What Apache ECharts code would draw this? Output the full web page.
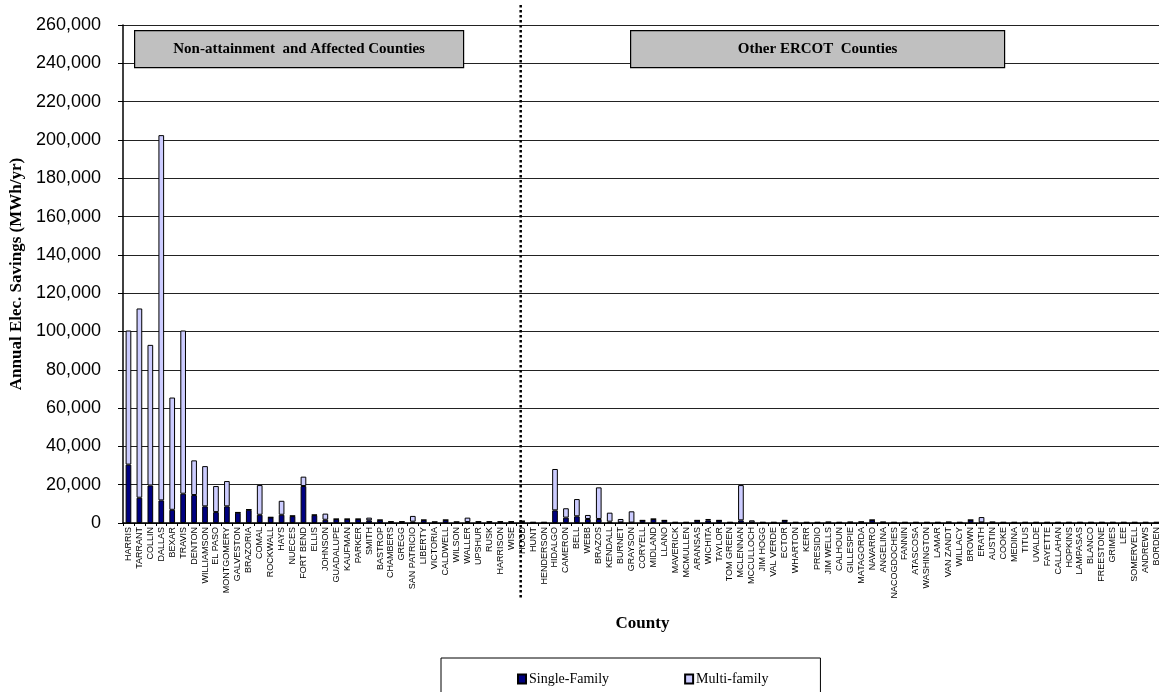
<!DOCTYPE html>
<html>
<head>
<meta charset="utf-8">
<title>Annual Elec. Savings by County</title>
<script src="https://cdn.jsdelivr.net/npm/echarts@6/dist/echarts.min.js"></script>
<style>
  html, body { margin: 0; padding: 0; background: #fff; }
  #main { width: 1159px; height: 692px; }
</style>
</head>
<body>
<div id="main"></div>
<script>
// counties, in the order on the chart
var counties = [
  'HARRIS', 'TARRANT', 'COLLIN', 'DALLAS', 'BEXAR', 'TRAVIS', 'DENTON', 'WILLIAMSON', 'EL PASO', 'MONTGOMERY',
  'GALVESTON', 'BRAZORIA', 'COMAL', 'ROCKWALL', 'HAYS', 'NUECES', 'FORT BEND', 'ELLIS', 'JOHNSON', 'GUADALUPE',
  'KAUFMAN', 'PARKER', 'SMITH', 'BASTROP', 'CHAMBERS', 'GREGG', 'SAN PATRICIO', 'LIBERTY', 'VICTORIA', 'CALDWELL',
  'WILSON', 'WALLER', 'UPSHUR', 'RUSK', 'HARRISON', 'WISE',
  'HOOD', 'HUNT', 'HENDERSON', 'HIDALGO', 'CAMERON', 'BELL', 'WEBB', 'BRAZOS', 'KENDALL', 'BURNET',
  'GRAYSON', 'CORYELL', 'MIDLAND', 'LLANO', 'MAVERICK', 'MCMULLEN', 'ARANSAS', 'WICHITA', 'TAYLOR', 'TOM GREEN',
  'MCLENNAN', 'MCCULLOCH', 'JIM HOGG', 'VAL VERDE', 'ECTOR', 'WHARTON', 'KERR', 'PRESIDIO', 'JIM WELLS', 'CALHOUN',
  'GILLESPIE', 'MATAGORDA', 'NAVARRO', 'ANGELINA', 'NACOGDOCHES', 'FANNIN', 'ATASCOSA', 'WASHINGTON', 'LAMAR', 'VAN ZANDT',
  'WILLACY', 'BROWN', 'ERATH', 'AUSTIN', 'COOKE', 'MEDINA', 'TITUS', 'UVALDE', 'FAYETTE', 'CALLAHAN',
  'HOPKINS', 'LAMPASAS', 'BLANCO', 'FREESTONE', 'GRIMES', 'LEE', 'SOMERVELL', 'ANDREWS', 'BORDEN'
];

// MWh/yr
var singleFamily = [
  30500, 13200, 19600, 11800, 6900, 15300, 14600, 8700, 5700, 8700,
  5400, 6900, 4300, 2900, 4300, 3600, 19300, 4100, 1700, 2000,
  2000, 2000, 1400, 1500, 600, 600, 700, 1500, 500, 1500,
  500, 500, 600, 600, 600, 600,
  900, 300, 300, 6600, 2800, 3500, 2100, 2100, 700, 300,
  200, 1300, 2000, 1300, 300, 300, 1300, 1400, 1300, 300,
  1400, 300, 300, 300, 1300, 300, 300, 300, 400, 300,
  400, 500, 1500, 400, 300, 300, 300, 300, 300, 400,
  300, 1500, 300, 400, 300, 300, 300, 300, 300, 300,
  300, 300, 300, 300, 300, 300, 300, 300, 300
];
var multiFamily = [
  70000, 98800, 73400, 190700, 58600, 85200, 18100, 21000, 13600, 13200,
  200, 200, 15500, 100, 7300, 200, 4900, 200, 3200, 100,
  100, 100, 1400, 100, 100, 100, 3000, 100, 100, 100,
  100, 2300, 100, 100, 100, 100,
  100, 100, 100, 21600, 4900, 9000, 2100, 16500, 4700, 1800,
  5900, 100, 100, 100, 100, 100, 100, 700, 100, 100,
  18400, 1100, 100, 100, 100, 100, 100, 100, 100, 100,
  100, 100, 100, 100, 100, 100, 100, 100, 100, 100,
  100, 100, 2800, 100, 100, 100, 100, 100, 100, 100,
  100, 100, 100, 100, 100, 100, 100, 100, 100
];

var yTicks = [0, 260000, 20000]; // min, max, step
var regionLabels = ['Non-attainment  and Affected Counties', 'Other ERCOT  Counties'];
var splitCounty = 'HOOD';

var serif = '"Liberation Serif", "DejaVu Serif", serif';
var sans = '"Liberation Sans", Arial, sans-serif';

var chart = echarts.init(document.getElementById('main'));

var option = {
  animation: false,
  grid: { left: 123, right: -3, top: 25, bottom: 169, containLabel: false, outerBoundsMode: 'none' },
  legend: {
    left: 441, top: 658,
    padding: [14, 52, 20, 76],
    itemGap: 75,
    itemWidth: 8, itemHeight: 9,
    borderColor: '#000', borderWidth: 1,
    icon: 'rect',
    textStyle: { fontFamily: serif, fontSize: 14, color: '#000', padding: [0, 0, 0, -2] },
    data: ['Single-Family', 'Multi-family']
  },
  xAxis: {
    type: 'category',
    data: counties,
    name: 'County',
    nameLocation: 'middle',
    nameGap: 92,
    nameTextStyle: { fontFamily: serif, fontSize: 17, fontWeight: 'bold', color: '#000' },
    axisLine: { lineStyle: { color: '#000', width: 1.5 } },
    axisTick: { show: true, interval: 0, length: 3, lineStyle: { color: '#000' } },
    axisLabel: {
      interval: 0, rotate: 90, margin: 4,
      fontFamily: sans, fontSize: 9, color: '#000'
    }
  },
  yAxis: {
    type: 'value',
    min: yTicks[0], max: yTicks[1], interval: yTicks[2],
    name: 'Annual Elec. Savings (MWh/yr)',
    nameLocation: 'middle',
    nameGap: 96,
    nameTextStyle: { fontFamily: serif, fontSize: 17, fontWeight: 'bold', color: '#000' },
    axisLine: { show: true, lineStyle: { color: '#000', width: 1.5 } },
    axisTick: { show: true, length: 5, lineStyle: { color: '#000' } },
    axisLabel: {
      margin: 22,
      fontFamily: sans, fontSize: 18, color: '#000',
      formatter: function (v) { return v.toLocaleString('en-US'); }
    },
    splitLine: { show: true, lineStyle: { color: '#222', width: 1.2 } }
  },
  series: [
    {
      name: 'Single-Family',
      type: 'bar',
      stack: 'total',
      barWidth: '52%',
      itemStyle: { color: '#000080', borderColor: '#000', borderWidth: 1 },
      data: singleFamily
    },
    {
      name: 'Multi-family',
      type: 'bar',
      stack: 'total',
      barWidth: '52%',
      itemStyle: { color: '#CCCCFF', borderColor: '#000', borderWidth: 1 },
      data: multiFamily
    }
  ]
};
chart.setOption(option);

// region boxes and the dotted divider
var splitX = chart.convertToPixel({ xAxisIndex: 0 }, splitCounty) - 1.5;
function regionBox(x, w, label) {
  return {
    type: 'group',
    left: x, top: 30,
    children: [
      { type: 'rect', shape: { x: 0, y: 0, width: w, height: 37 },
        style: { fill: '#C0C0C0', stroke: '#000', lineWidth: 1.2 } },
      { type: 'text', x: w / 2, y: 18.5,
        style: { text: label, fill: '#000', font: 'bold 15px ' + serif, align: 'center', verticalAlign: 'middle' } }
    ]
  };
}
chart.setOption({
  graphic: [
    regionBox(134, 329, regionLabels[0]),
    regionBox(630, 374, regionLabels[1]),
    {
      type: 'line',
      shape: { x1: splitX, y1: 5, x2: splitX, y2: 600 },
      style: { stroke: '#000', lineWidth: 2.5, lineDash: [2.5, 2.5] },
      z: 10
    }
  ]
});
</script>
</body>
</html>
